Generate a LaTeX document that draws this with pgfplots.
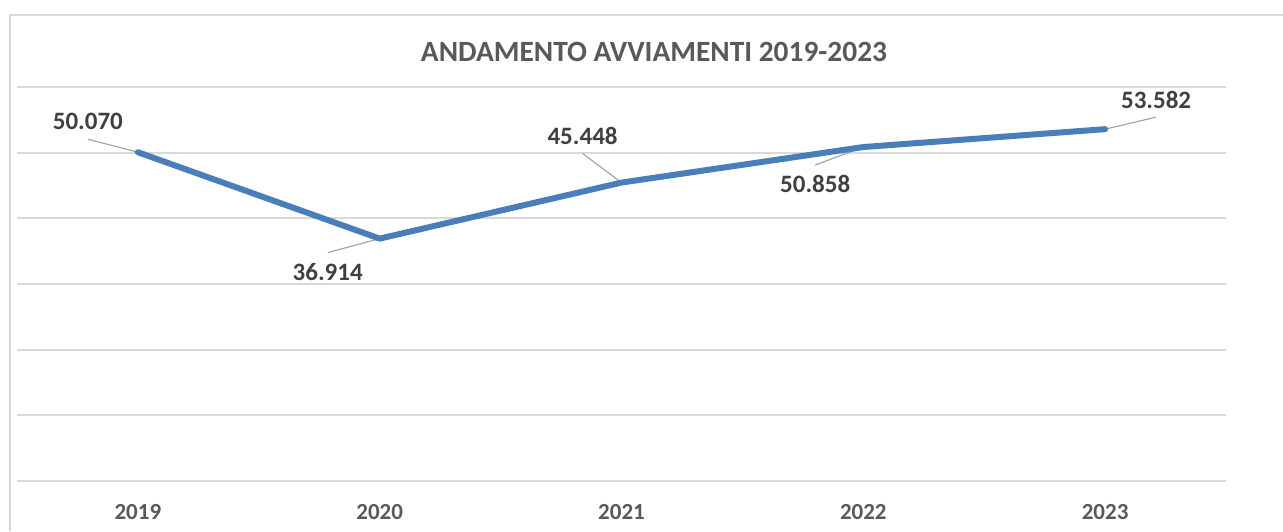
\documentclass[border=0pt]{standalone}
\usepackage{pgfplots}
\pgfplotsset{compat=1.18}
\usepackage{pgfplotstable}
\usepackage{fontspec}
\setmainfont{Carlito}
\definecolor{lineblue}{HTML}{4A7EBB}
\definecolor{gridgray}{HTML}{D9D9D9}
\definecolor{labgray}{HTML}{404040}
\definecolor{txtgray}{HTML}{595959}
\definecolor{leadgray}{HTML}{A6A6A6}
\pgfplotstableread{
x y u v off label
0 50.070 -0.207 1.98 9 50.070
1 36.914 -0.215 -2.13 -9.5 36.914
2 45.448 -0.161 4.42 9 45.448
3 50.858 -0.199 -2.74 -9.5 50.858
4 53.582 0.211 1.83 8.5 53.582
}\datatab
\begin{document}
\begin{tikzpicture}
\path[use as bounding box] (0,0) rectangle (641.5pt,265.5pt);
\draw[gridgray, line width=0.9pt] (5pt,0) -- (5pt,258pt) -- (641.5pt,258pt);
\begin{axis}[
  at={(8.5pt,25pt)}, anchor=south west, scale only axis,
  width=604.5pt, height=197pt,
  xmin=-0.5, xmax=4.5, ymin=0, ymax=60,
  xtick={0,1,2,3,4}, xticklabels={2019,2020,2021,2022,2023},
  ytick={0,10,20,30,40,50,60}, yticklabels={},
  ymajorgrids, major grid style={gridgray, line width=0.9pt},
  axis line style={draw=none}, tick style={draw=none},
  xticklabel style={font=\bfseries\fontsize{11.5}{12}\selectfont, text=txtgray, anchor=center, yshift=-15.5pt},
  clip=false,
]
\addplot[leadgray, line width=0.6pt, quiver={u=\thisrow{u}, v=\thisrow{v}}] table[x=x,y=y]{\datatab};
\addplot[lineblue, line width=3pt, line cap=round, line join=round, mark=none] table[x=x,y=y]{\datatab};
\addplot[draw=none, mark=none, nodes near coords, point meta=explicit symbolic,
  visualization depends on={\thisrow{off} \as \off},
  nodes near coords style={anchor=center, yshift=\off pt, font=\bfseries\fontsize{12.5}{13}\selectfont, text=labgray}]
  table[x expr=\thisrow{x}+\thisrow{u}, y expr=\thisrow{y}+\thisrow{v}, meta=label]{\datatab};
\end{axis}
\node[font=\bfseries\fontsize{14.7}{16}\selectfont, text=txtgray] at (327pt,239.5pt) {ANDAMENTO AVVIAMENTI 2019-2023};
\end{tikzpicture}
\end{document}
